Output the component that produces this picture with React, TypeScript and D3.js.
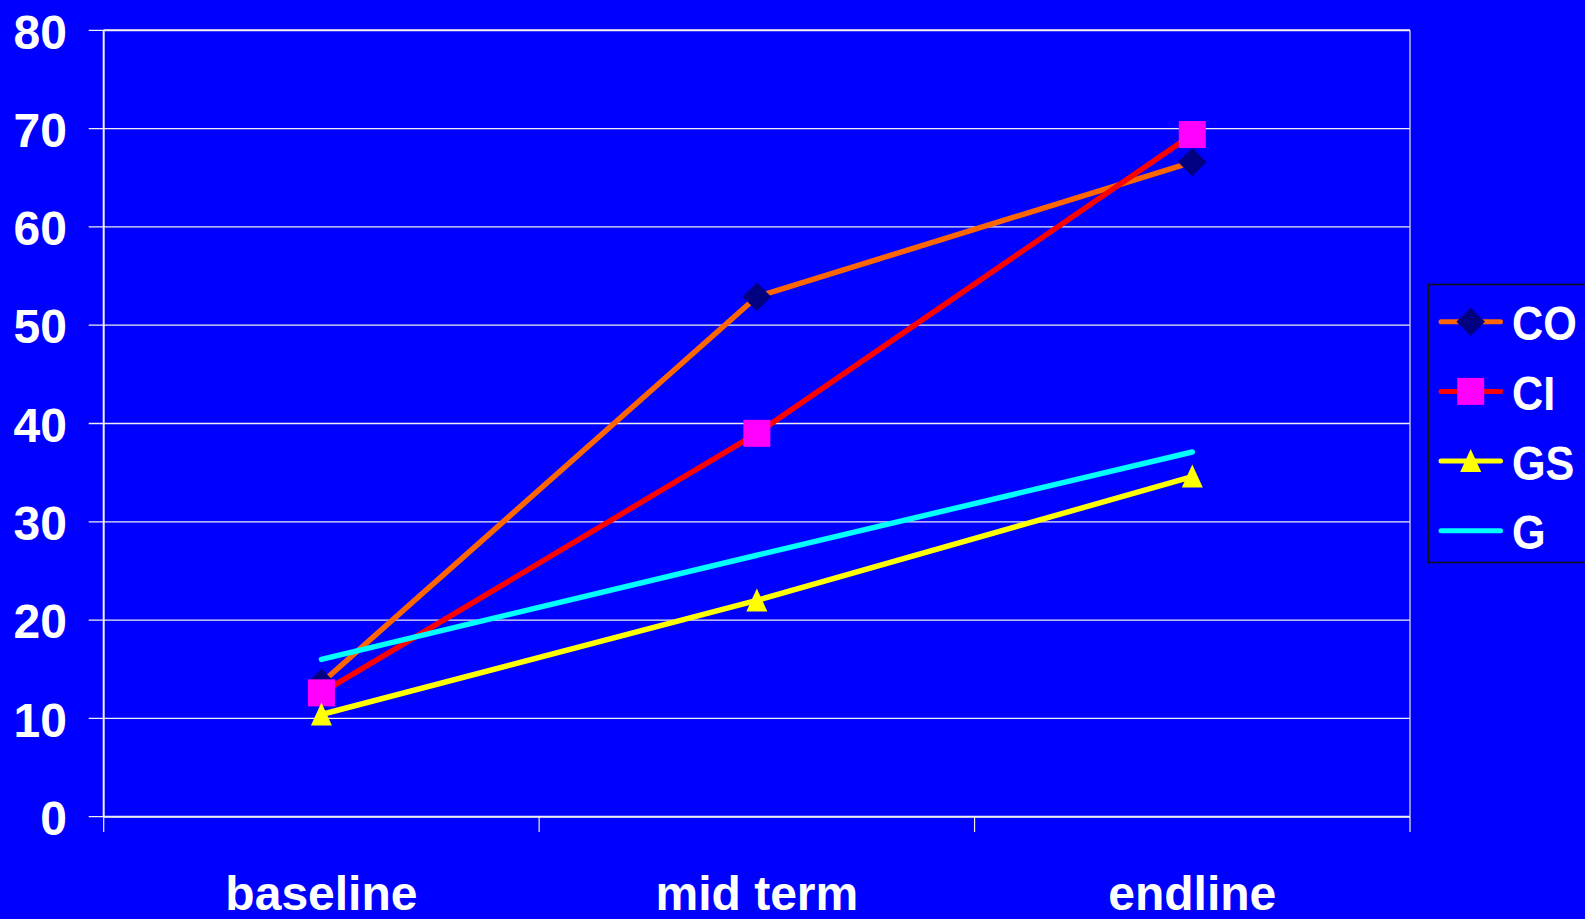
import React, { useEffect } from "react";
import * as d3 from "d3";

const categories = ["baseline", "mid term", "endline"];
const yTicks = [0, 10, 20, 30, 40, 50, 60, 70, 80];

const seriesNames = ["CO", "CI", "GS", "G"];
const coValues = [13.6, 52.9, 66.6];
const ciValues = [12.6, 39.0, 69.4];
const gsValues = [10.4, 22.0, 34.6];
const gValues = [16.0, 26.6, 37.1];

const W = 1585;
const H = 919;
const FONT = "'Liberation Sans', Arial, sans-serif";

type MarkerKind = "diamond" | "square" | "triangle" | "none";

const series: { name: string; values: number[]; line: string; marker: MarkerKind; fill: string }[] = [
  { name: seriesNames[0], values: coValues, line: "#FF6600", marker: "diamond", fill: "#000080" },
  { name: seriesNames[1], values: ciValues, line: "#FF0000", marker: "square", fill: "#FF00FF" },
  { name: seriesNames[2], values: gsValues, line: "#FFFF00", marker: "triangle", fill: "#FFFF00" },
  { name: seriesNames[3], values: gValues, line: "#00FFFF", marker: "none", fill: "#00FFFF" },
];

function Marker({ kind, fill, x, y }: { kind: MarkerKind; fill: string; x: number; y: number }) {
  if (kind === "diamond") {
    const p = d3.symbol().type(d3.symbolSquare).size(410)();
    return <path d={p || ""} fill={fill} transform={`translate(${x},${y}) rotate(45)`} />;
  }
  if (kind === "square") {
    const p = d3.symbol().type(d3.symbolSquare).size(27 * 27)();
    return <path d={p || ""} fill={fill} transform={`translate(${x},${y})`} />;
  }
  if (kind === "triangle") {
    const p = "M0,-12L10.5,11L-10.5,11Z";
    return <path d={p} fill={fill} transform={`translate(${x},${y})`} />;
  }
  return null;
}

export default function App() {
  useEffect(() => {
    document.body.style.margin = "0";
    document.body.style.overflow = "hidden";
  }, []);

  const left = 103.7;
  const right = 1410;
  const top = 30.3;
  const bottom = 816.7;

  const x = d3.scaleBand<string>().domain(categories).range([left, right]).padding(0);
  const y = d3.scaleLinear().domain([0, 80]).range([bottom, top]);
  const cx = (c: string) => (x(c) as number) + x.bandwidth() / 2;

  const line = d3
    .line<number>()
    .x((_, i) => cx(categories[i]))
    .y((v) => y(v));

  const xTickPositions = [left, ...categories.map((c) => (x(c) as number) + x.bandwidth())];

  const legendX = 1428.5;
  const legendTop = 284.5;
  const legendRow = 69.7;
  const legendFirst = 321.7;

  return (
    <svg width={W} height={H} style={{ display: "block", position: "absolute", left: 0, top: 0 }}>
      <rect x={0} y={0} width={W} height={H} fill="#0000FF" />

      {/* horizontal gridlines with left ticks */}
      {yTicks.map((t) => (
        <line
          key={`g${t}`}
          x1={88.7}
          x2={right}
          y1={y(t)}
          y2={y(t)}
          stroke="#EEEEF4"
          strokeWidth={1.3}
        />
      ))}

      {/* plot frame */}
      <line x1={left} x2={left} y1={top} y2={bottom} stroke="#F0F0F0" strokeWidth={2} />
      <line x1={right} x2={right} y1={top} y2={bottom} stroke="#E6E6F0" strokeWidth={1.2} />
      <line x1={left} x2={right} y1={top} y2={top} stroke="#F0F0F0" strokeWidth={2} />
      <line x1={left} x2={right} y1={bottom} y2={bottom} stroke="#F0F0F0" strokeWidth={2} />

      {/* category ticks */}
      {xTickPositions.map((px, i) => (
        <line key={`xt${i}`} x1={px} x2={px} y1={bottom} y2={832} stroke="#F0F0F0" strokeWidth={1.2} />
      ))}

      {/* y tick labels */}
      {yTicks.map((t) => (
        <text
          key={`yl${t}`}
          x={67}
          y={y(t) + 18.2}
          textAnchor="end"
          fill="#FFFFFF"
          fontFamily={FONT}
          fontWeight="bold"
          fontSize={48}
        >
          {t}
        </text>
      ))}

      {/* category labels */}
      {categories.map((c) => (
        <text
          key={`xl${c}`}
          x={cx(c)}
          y={910}
          textAnchor="middle"
          fill="#FFFFFF"
          fontFamily={FONT}
          fontWeight="bold"
          fontSize={48}
        >
          {c}
        </text>
      ))}

      {/* series */}
      {series.map((s) => (
        <g key={s.name}>
          <path
            d={line(s.values) || ""}
            fill="none"
            stroke={s.line}
            strokeWidth={5.5}
            strokeLinecap="round"
            strokeLinejoin="round"
          />
          {s.values.map((v, i) => (
            <Marker key={i} kind={s.marker} fill={s.fill} x={cx(categories[i])} y={y(v)} />
          ))}
        </g>
      ))}

      {/* legend */}
      <rect
        x={legendX}
        y={legendTop}
        width={W - legendX + 10}
        height={278}
        fill="#0000FF"
        stroke="#101010"
        strokeWidth={1.5}
      />
      {series.map((s, i) => {
        const ry = legendFirst + i * legendRow;
        return (
          <g key={`lg${s.name}`}>
            <line x1={1441} x2={1500.5} y1={ry} y2={ry} stroke={s.line} strokeWidth={5} strokeLinecap="round" />
            <Marker kind={s.marker} fill={s.fill} x={1470.7} y={ry} />
            <text
              transform={`translate(1512,${ry + 18.5}) scale(0.9,1)`}
              fill="#FFFFFF"
              fontFamily={FONT}
              fontWeight="bold"
              fontSize={48}
            >
              {s.name}
            </text>
          </g>
        );
      })}
    </svg>
  );
}
